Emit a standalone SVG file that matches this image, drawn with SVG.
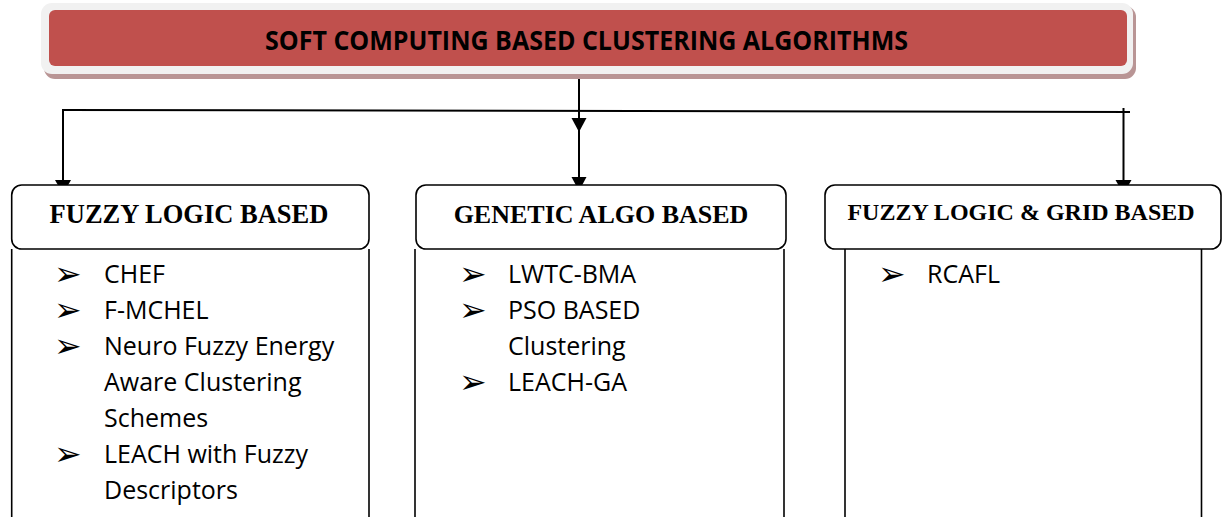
<svg xmlns="http://www.w3.org/2000/svg" width="1222" height="517" viewBox="0 0 1222 517">
<defs>
<style>
.hdr{fill:#fff;stroke:#000;stroke-width:1.6}
.body{fill:none;stroke:#000;stroke-width:1.6}
.ht{font-family:"Liberation Serif","Times New Roman",serif;font-weight:bold;fill:#000;text-anchor:middle}
.it{font-family:"Open Sans","Liberation Sans",sans-serif;font-size:25px;fill:#000}
.bl{font-family:"DejaVu Sans",sans-serif;font-size:33px;fill:#000}
.ln{fill:none;stroke:#000;stroke-width:2}
.ah{fill:#000}
</style>
</defs>
<g id="connectors">
<line class="ln" x1="62" y1="110" x2="1130" y2="112"/>
<line class="ln" x1="579" y1="66" x2="579" y2="186"/>
<line class="ln" x1="63" y1="109" x2="63" y2="186"/>
<line class="ln" x1="1123.5" y1="108" x2="1123.5" y2="186"/>
<polygon class="ah" points="571.5,118 586.5,118 579,132"/>
<polygon class="ah" points="571.5,177 586.5,177 579,191"/>
<polygon class="ah" points="55,180 71,180 63,194"/>
<polygon class="ah" points="1115.5,180 1131.5,180 1123.5,194"/>
</g>
<g id="title">
<rect x="44" y="6" width="1092" height="73" rx="11" fill="#b99595"/>
<rect x="41" y="3" width="1092" height="71" rx="11" fill="#f1f1f1"/>
<rect x="49" y="10" width="1078" height="56" rx="6" fill="#C0504D"/>
<text x="586.5" y="50" font-family="Open Sans, Liberation Sans, sans-serif" font-weight="bold" font-size="26" text-anchor="middle" textLength="643" lengthAdjust="spacingAndGlyphs" fill="#000">SOFT COMPUTING BASED CLUSTERING ALGORITHMS</text>
</g>
<g id="fuzzy-logic">
<line class="body" x1="11.7" y1="249" x2="11.7" y2="517"/>
<line class="body" x1="369" y1="249" x2="369" y2="517"/>
<rect class="hdr" x="11.7" y="185" width="357.3" height="64" rx="10"/>
<text class="ht" x="189" y="223" font-size="26.5">FUZZY LOGIC BASED</text>
<text class="bl" x="54" y="285">➢</text><text class="it" x="104" y="283">CHEF</text>
<text class="bl" x="54" y="321">➢</text><text class="it" x="104" y="319">F-MCHEL</text>
<text class="bl" x="54" y="357">➢</text><text class="it" x="104" y="355">Neuro Fuzzy Energy</text>
<text class="it" x="104" y="391">Aware Clustering</text>
<text class="it" x="104" y="427">Schemes</text>
<text class="bl" x="54" y="465">➢</text><text class="it" x="104" y="463">LEACH with Fuzzy</text>
<text class="it" x="104" y="499">Descriptors</text>
</g>
<g id="genetic-algo">
<line class="body" x1="415" y1="249" x2="415" y2="517"/>
<line class="body" x1="784" y1="249" x2="784" y2="517"/>
<rect class="hdr" x="416" y="185" width="370" height="64" rx="10"/>
<text class="ht" x="601" y="223" font-size="26">GENETIC ALGO BASED</text>
<text class="bl" x="459" y="285">➢</text><text class="it" x="508" y="283">LWTC-BMA</text>
<text class="bl" x="459" y="321">➢</text><text class="it" x="508" y="319">PSO BASED</text>
<text class="it" x="508" y="355">Clustering</text>
<text class="bl" x="459" y="393">➢</text><text class="it" x="508" y="391">LEACH-GA</text>
</g>
<g id="fuzzy-grid">
<line class="body" x1="845" y1="249" x2="845" y2="517"/>
<line class="body" x1="1201.5" y1="249" x2="1201.5" y2="517"/>
<rect class="hdr" x="825" y="185" width="396" height="64" rx="10"/>
<text class="ht" x="1021" y="220" font-size="24">FUZZY LOGIC &amp; GRID BASED</text>
<text class="bl" x="878" y="285">➢</text><text class="it" x="927" y="283">RCAFL</text>
</g>
</svg>
